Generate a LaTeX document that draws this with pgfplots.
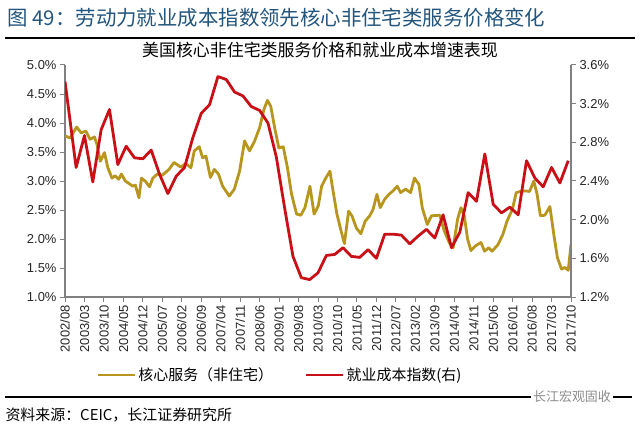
\documentclass[border=0pt]{standalone}
\usepackage{pgfplots}
\pgfplotsset{compat=1.18}
\usepackage{fontspec}
\setmainfont{Liberation Sans}
\newfontfamily\cjk{Noto Sans CJK SC}
\definecolor{gold}{RGB}{184,150,30}
\definecolor{eci}{RGB}{200,16,22}
\definecolor{axgray}{RGB}{128,128,128}
\definecolor{headblue}{RGB}{35,85,125}

% months since 2002/08
\pgfplotstableread{
m v
0 3.78
1.8 3.74
4.2 3.93
5.8 3.83
7.5 3.86
9 3.72
10.6 3.76
11.5 3.63
12.7 3.34
14.2 3.49
15.4 3.23
16.9 3.05
18 3.09
19.3 3.03
20.3 3.12
21.7 3.00
23.2 2.95
24.4 2.91
25.3 2.93
26.6 2.71
27.5 3.05
29 2.99
30.4 2.90
31.6 3.05
33.2 3.12
35 3.10
37.4 3.20
39.2 3.32
41.6 3.24
43.4 3.30
45.3 3.23
46.5 3.52
48.3 3.59
49.5 3.40
50.7 3.43
52.3 3.06
53.7 3.20
55.2 3.12
56.7 2.91
59.1 2.74
60.9 2.86
62.8 3.17
64.6 3.69
66.4 3.52
68.2 3.69
70 3.92
71.6 4.24
72.8 4.39
74 4.29
75.4 3.92
76.9 3.57
78.5 3.59
80 3.23
81.5 2.77
83.3 2.43
84.8 2.41
86.3 2.54
88.1 2.91
89.6 2.43
91.1 2.57
92.3 2.91
93.9 3.06
95.3 3.17
96.3 2.86
97.8 2.43
99.3 2.14
100.5 1.92
102 2.48
103.2 2.40
104.8 2.19
106.4 2.09
108 2.31
109.6 2.40
110.8 2.51
112.2 2.77
113.4 2.54
114.9 2.68
116.5 2.77
118 2.83
119.5 2.91
120.7 2.80
122.5 2.86
124.3 2.80
125.7 3.05
127.3 2.94
128.5 2.54
130.3 2.25
131.8 2.40
134.8 2.41
136.4 2.14
138.2 1.94
139.6 1.85
141.2 2.34
142.4 2.54
143.6 2.40
144.8 2.00
146 1.80
147.6 1.88
149.6 1.94
150.9 1.79
152.4 1.85
153.6 1.79
155.7 1.90
157.5 2.08
159 2.31
160.9 2.51
162.3 2.80
163.8 2.82
165.3 2.83
167.1 2.82
168.6 3.00
169.8 2.77
171 2.40
172.6 2.41
174.4 2.56
175.9 2.05
177.1 1.68
178.6 1.48
179.8 1.51
181 1.46
182 1.91
}\coresvc

\pgfplotstableread{
m v
0 3.43
4 2.54
7 2.87
10 2.39
13 2.93
16 3.14
19 2.57
22 2.76
25 2.64
28 2.63
31 2.72
34 2.47
37 2.27
40 2.45
43 2.54
46 2.85
49 3.10
52 3.19
55 3.48
58 3.45
61 3.32
64 3.28
67 3.17
70 3.13
73 3.00
76 2.65
79 2.12
82 1.62
85 1.40
88 1.38
91 1.45
94 1.63
97 1.64
100 1.71
103 1.62
106 1.61
109 1.69
112 1.60
115 1.85
118 1.85
121 1.84
124 1.75
127 1.83
130 1.90
133 1.81
136 2.05
139 1.71
142 1.87
145 2.28
148 2.19
151 2.68
154 2.16
157 2.07
160 2.13
163 2.05
166 2.61
169 2.43
172 2.34
175 2.54
178 2.38
181 2.61
}\eciyoy

\pgfplotsset{
  common/.style={
    at={(65bp,134bp)}, anchor=south west,
    width=506bp, height=232bp, scale only axis,
    xmin=0, xmax=182,
    axis line style={axgray, line width=1.2bp},
    tick align=outside, major tick length=5bp,
    tick style={axgray, line width=1bp},
    ticklabel style={font=\fontsize{13}{15}\selectfont, text=black!85},
    /pgf/number format/assume math mode=true,
    yticklabel={\pgfmathprintnumber[fixed,fixed zerofill,precision=1]{\tick}\%},
  },
}

\begin{document}
\begin{tikzpicture}[x=1bp,y=1bp]
\path[use as bounding box] (0,0) rectangle (640,431);

\node[anchor=west, text=headblue, font=\cjk\fontsize{20.5}{24}\selectfont] at (4,413)
  {图\ 49：劳动力就业成本指数领先核心非住宅类服务价格变化};
\draw[line width=2bp] (5,393) -- (635,393);
\node[font=\cjk\fontsize{17}{20}\selectfont] at (320,381)
  {美国核心非住宅类服务价格和就业成本增速表现};

\begin{axis}[common,
    ymin=1, ymax=5,
    axis x line*=bottom, axis y line*=left,
    ytick={1,1.5,2,2.5,3,3.5,4,4.5,5},
    xtick={0,7,...,182},
    xticklabels={2002/08,2003/03,2003/10,2004/05,2004/12,2005/07,2006/02,2006/09,2007/04,2007/11,2008/06,2009/01,2009/08,2010/03,2010/10,2011/05,2011/12,2012/07,2013/02,2013/09,2014/04,2014/11,2015/06,2016/01,2016/08,2017/03,2017/10},
    xticklabel style={rotate=90, anchor=east},
    legend style={at={(0.425,-0.336)}, anchor=center, draw=none, fill=none,
      font=\cjk\fontsize{15}{18}\selectfont, legend columns=2,
      /tikz/every even column/.append style={column sep=30bp}},
    legend image code/.code={\draw[#1] (0bp,0bp) -- (37bp,0bp);},
]
\addplot[gold, line width=2.8bp, line join=round] table[x=m, y=v] {\coresvc};
\addlegendentry{核心服务（非住宅）}
\addlegendimage{eci, line width=2.8bp}
\addlegendentry{就业成本指数(右)}
\end{axis}

\begin{axis}[common,
    ymin=1.2, ymax=3.6,
    axis x line=none, axis y line*=right,
    ytick={1.2,1.6,2.0,2.4,2.8,3.2,3.6},
]
\addplot[eci, line width=2.8bp, line join=round] table[x=m, y=v] {\eciyoy};
\end{axis}

\draw[line width=2bp] (5,34) -- (632,34);
\node[fill=white, text=black!45, font=\cjk\fontsize{13}{15}\selectfont, inner sep=2bp] at (572,34) {长江宏观固收};
\node[anchor=west, font=\cjk\fontsize{15}{18}\selectfont] at (2,16) {资料来源：CEIC，长江证券研究所};
\end{tikzpicture}
\end{document}
